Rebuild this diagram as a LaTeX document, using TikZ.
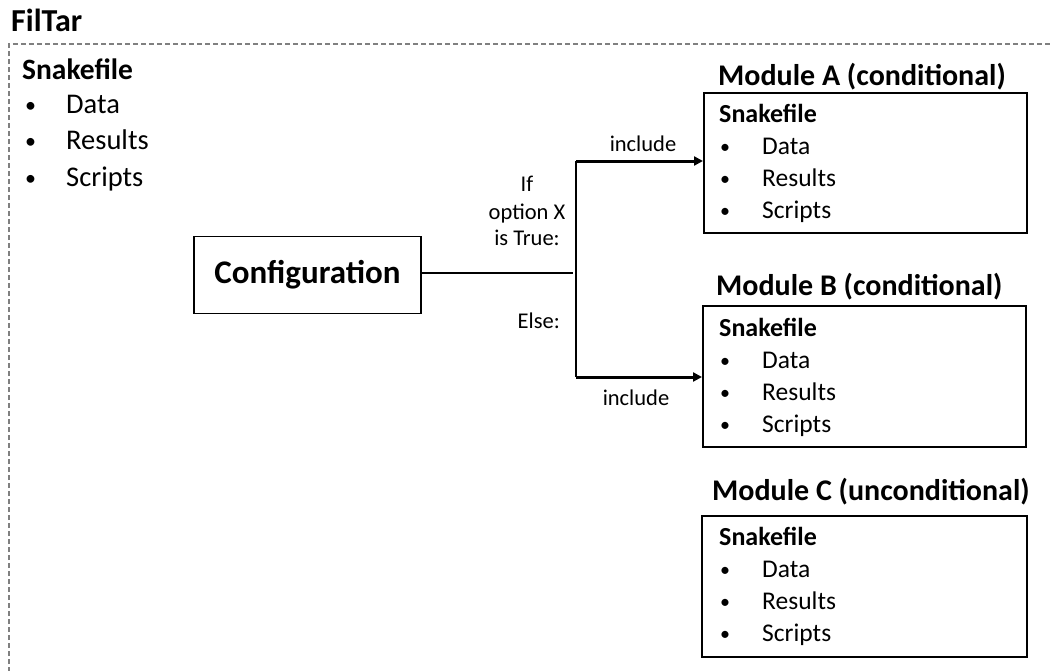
\documentclass[tikz,border=0pt]{standalone}
\usepackage{fontspec}
\setmainfont{Carlito}
\usetikzlibrary{arrows.meta}
\newcommand\fsz[1]{\fontsize{#1}{#1}\selectfont}
\tikzset{
  lbl/.style={inner sep=0pt, anchor=base west},
  ctr/.style={inner sep=0pt, anchor=base},
  modbox/.style={draw, line width=1.5pt, inner sep=0pt, anchor=north west},
  frame/.style={draw=gray, line width=1.3pt, dash pattern=on 5pt off 3pt},
  plain/.style={line width=1.5pt},
  trunk/.style={line width=2.2pt},
  arr/.style={line width=3pt, -{Triangle[length=9pt,width=9pt]}},
}
\begin{document}
\begin{tikzpicture}[x=1pt,y=-1pt]
\useasboundingbox (0,0) rectangle (1050,670);
% frame
\coordinate (fbl) at (9,672);
\coordinate (ftl) at (9,44);
\coordinate (ftr) at (1052,44);
\draw[frame] (fbl) -- (ftl) -- (ftr);
\node[lbl] (title) at (11,31) {\fsz{32}\bfseries FilTar};
% main snakefile
\node[lbl] (ms) at (22,79) {\fsz{29.5}\bfseries Snakefile};
\node[lbl] (mb1) at (25,112) {\fsz{22}•};
\node[lbl] (mt1) at (66,113) {\fsz{28.5}Data};
\node[lbl] (mb2) at (25,148) {\fsz{22}•};
\node[lbl] (mt2) at (66,149) {\fsz{28.5}Results};
\node[lbl] (mb3) at (25,185) {\fsz{22}•};
\node[lbl] (mt3) at (66,186) {\fsz{28.5}Scripts};
% configuration
\node[draw, line width=1.5pt, minimum width=227pt, minimum height=77pt, inner sep=0pt] (conf) at (307.5,275) {\fsz{33}\bfseries Configuration};
% modules
\node[modbox, minimum width=323pt, minimum height=140pt] (A) at (703,92) {};
\node[modbox, minimum width=323pt, minimum height=141pt] (B) at (702,305) {};
\node[modbox, minimum width=325pt, minimum height=141pt] (C) at (701,515) {};
\node[lbl] (At) at (718,85) {\fsz{30}\bfseries Module A (conditional)};
\node[lbl] (Bt) at (716,295) {\fsz{30}\bfseries Module B (conditional)};
\node[lbl] (Ct) at (712,500) {\fsz{30}\bfseries Module C (unconditional)};
% box contents
\foreach \n/\y in {A/122, B/336, C/545}{
  \node[lbl] (\n s) at (719,\y) {\fsz{26}\bfseries Snakefile};
  \node[lbl] (\n b1) at (720,\y+31) {\fsz{20}•};
  \node[lbl] (\n t1) at (762,\y+32) {\fsz{25.5}Data};
  \node[lbl] (\n b2) at (720,\y+63) {\fsz{20}•};
  \node[lbl] (\n t2) at (762,\y+64) {\fsz{25.5}Results};
  \node[lbl] (\n b3) at (720,\y+95) {\fsz{20}•};
  \node[lbl] (\n t3) at (762,\y+96) {\fsz{25.5}Scripts};
}
% connectors
\coordinate (hend) at (573,273);
\coordinate (vtop) at (576,161);
\coordinate (vbot) at (576,377);
\draw[plain] (conf.east |- hend) -- (hend);
\draw[trunk] (vtop) -- (vbot);
\draw[arr] (vtop) -- (A.west |- vtop);
\draw[arr] (vbot) -- (B.west |- vbot);
% labels
\node[ctr] (inc1) at (643,151) {\fsz{22.5}include};
\node[ctr] (inc2) at (636,405) {\fsz{22.5}include};
\node[ctr] (c1) at (527,191) {\fsz{22.5}If};
\node[ctr] (c2) at (527,219) {\fsz{22.5}option X};
\node[ctr] (c3) at (527,245) {\fsz{22.5}is True:};
\node[inner sep=0pt, anchor=base east] (els) at (560,328) {\fsz{22.5}Else:};
\end{tikzpicture}
\end{document}
